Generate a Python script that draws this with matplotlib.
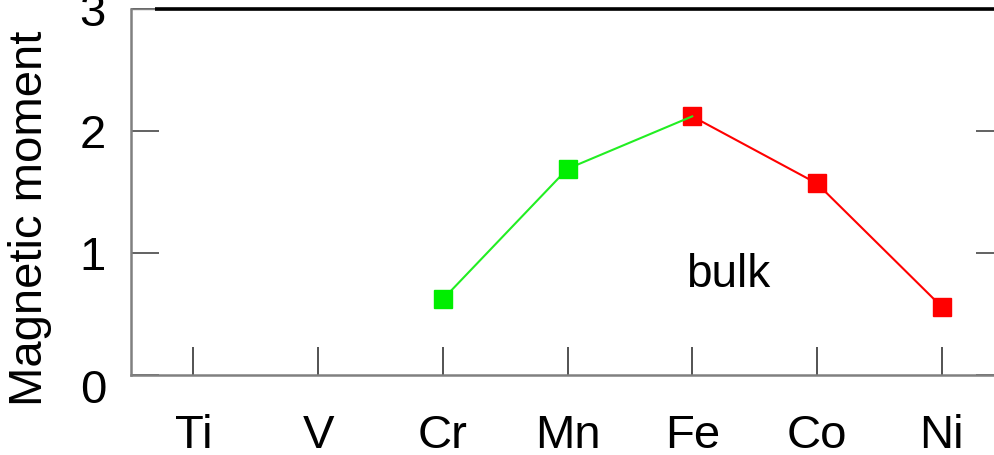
import matplotlib
matplotlib.use("Agg")
import matplotlib.pyplot as plt
import matplotlib.transforms as mtransforms

plt.rcParams['font.family'] = ['Liberation Sans', 'DejaVu Sans']

elements = ["Ti", "V", "Cr", "Mn", "Fe", "Co", "Ni"]
green_elements = ["Cr", "Mn", "Fe"]
green_moments = [0.62, 1.69, 2.12]
red_elements = ["Fe", "Co", "Ni"]
red_moments = [2.12, 1.57, 0.56]
y_ticks = [0, 1, 2, 3]

W, H = 994, 455
fig = plt.figure(figsize=(W / 100, H / 100), dpi=100)
ax = fig.add_axes([131 / W, 80 / H, 873 / W, 366 / H])

pos = {e: i for i, e in enumerate(elements)}
gx = [pos[e] for e in green_elements]
rx = [pos[e] for e in red_elements]

ax.plot(rx, red_moments, color="#ff0000", lw=1.5, marker="s", ms=13.5,
        mec="#ff0000", mfc="#ff0000", zorder=3)
ax.plot(gx, green_moments, color="#22ee22", lw=1.5, zorder=4)
ax.plot(gx[:2], green_moments[:2], ls="none", marker="s", ms=13.5,
        mec="#00ee00", mfc="#00ee00", zorder=5)

ax.text(4.29, 0.72, "bulk", fontsize=33, ha="center", va="baseline")

ax.set_xlim(-0.5, 6.5)
ax.set_ylim(0, 3)
ax.set_xticks(range(len(elements)))
ax.set_xticklabels(elements)
ax.set_yticks(y_ticks)
ax.set_yticklabels([str(v) for v in y_ticks])

ax.tick_params(axis="x", direction="in", length=20, width=1.3, colors="#444444",
               labelcolor="black", labelsize=34, pad=28)
ax.tick_params(axis="y", direction="in", length=20, width=1.3, colors="#555555",
               labelcolor="black", labelsize=34, pad=18, right=True)

# push the zero label down a little
zero_lbl = ax.get_yticklabels()[0]
zero_lbl.set_transform(zero_lbl.get_transform() +
                       mtransforms.ScaledTranslation(0, -11 / 100, fig.dpi_scale_trans))

for side in ("left", "bottom"):
    ax.spines[side].set_color("#808080")
    ax.spines[side].set_linewidth(1.8)
ax.spines["right"].set_color("#333333")
ax.spines["top"].set_color("#808080")
ax.spines["top"].set_linewidth(1.0)

# heavy frame line along the top
ax.plot([24 / 873, 1.0], [1.0, 1.0], transform=ax.transAxes, color="black",
        lw=2.6, clip_on=False, zorder=6, solid_capstyle="butt")

fig.text(30 / W, 1 - 218 / H, "Magnetic moment", rotation=90, fontsize=34,
         ha="center", va="center")

fig.savefig("out.png", dpi=100)
